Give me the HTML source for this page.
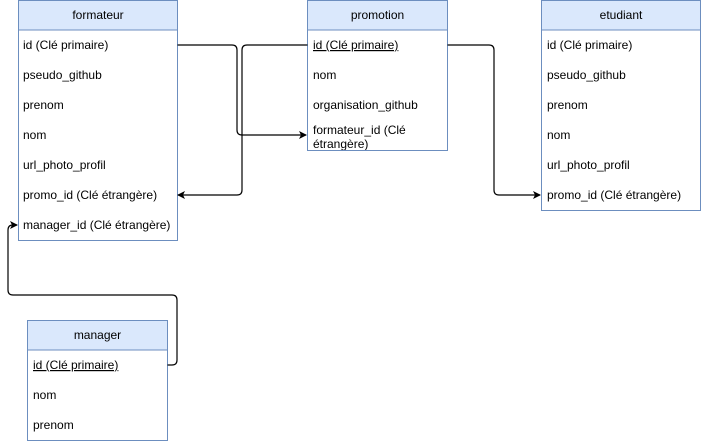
<!DOCTYPE html>
<html><head><meta charset="utf-8"><style>
html,body{margin:0;padding:0;background:#fff;width:702px;height:442px;overflow:hidden}
text{font-family:"Liberation Sans",Arial,sans-serif;font-size:12px;fill:#000}
</style></head><body>
<svg width="702" height="442" viewBox="0 0 702 442" xmlns="http://www.w3.org/2000/svg">
<defs>
<marker id="a" markerWidth="10" markerHeight="10" refX="7" refY="4" orient="auto" markerUnits="userSpaceOnUse">
<path d="M0,0 L8,4 L0,8 L2,4 Z" fill="#000"/></marker>
<clipPath id="cp"><rect x="307.5" y="30" width="140" height="120"/></clipPath>
</defs>
<!-- formateur -->
<rect x="18.5" y="0.5" width="159" height="240" fill="#fff" stroke="#6c8ebf"/>
<rect x="18.5" y="0.5" width="159" height="29.5" fill="#dae8fc" stroke="#6c8ebf"/>
<text x="98" y="19" text-anchor="middle">formateur</text>
<text x="23" y="49">id (Clé primaire)</text>
<text x="23" y="79">pseudo_github</text>
<text x="23" y="109">prenom</text>
<text x="23" y="139">nom</text>
<text x="23" y="169">url_photo_profil</text>
<text x="23" y="199">promo_id (Clé étrangère)</text>
<text x="23" y="229">manager_id (Clé étrangère)</text>
<!-- promotion -->
<rect x="307.5" y="0.5" width="140" height="150" fill="#fff" stroke="#6c8ebf"/>
<rect x="307.5" y="0.5" width="140" height="29.5" fill="#dae8fc" stroke="#6c8ebf"/>
<text x="377.5" y="19" text-anchor="middle">promotion</text>
<text x="313" y="49" text-decoration="underline">id (Clé primaire)</text>
<text x="313" y="79">nom</text>
<text x="313" y="109">organisation_github</text>
<g clip-path="url(#cp)">
<text x="313" y="134">formateur_id (Clé</text>
<text x="313" y="148">étrangère)</text>
</g>
<!-- etudiant -->
<rect x="541.5" y="0.5" width="159" height="210" fill="#fff" stroke="#6c8ebf"/>
<rect x="541.5" y="0.5" width="159" height="29.5" fill="#dae8fc" stroke="#6c8ebf"/>
<text x="621" y="19" text-anchor="middle">etudiant</text>
<text x="547" y="49">id (Clé primaire)</text>
<text x="547" y="79">pseudo_github</text>
<text x="547" y="109">prenom</text>
<text x="547" y="139">nom</text>
<text x="547" y="169">url_photo_profil</text>
<text x="547" y="199">promo_id (Clé étrangère)</text>
<!-- manager -->
<rect x="27.5" y="320.5" width="140" height="120" fill="#fff" stroke="#6c8ebf"/>
<rect x="27.5" y="320.5" width="140" height="29.5" fill="#dae8fc" stroke="#6c8ebf"/>
<text x="97.5" y="339" text-anchor="middle">manager</text>
<text x="33" y="369" text-decoration="underline">id (Clé primaire)</text>
<text x="33" y="399">nom</text>
<text x="33" y="429">prenom</text>
<!-- connectors -->
<g fill="none" stroke="#000" stroke-width="1.2">
<path d="M177.5,45 H232 Q237,45 237,50 V130 Q237,135 242,135 H306" marker-end="url(#a)"/>
<path d="M307.5,45 H247 Q242,45 242,50 V190 Q242,195 237,195 H178" marker-end="url(#a)"/>
<path d="M447.5,45 H489 Q494,45 494,50 V190 Q494,195 499,195 H540" marker-end="url(#a)"/>
<path d="M167.5,365 H172 Q177,365 177,360 V300 Q177,295 172,295 H13 Q8,295 8,290 V230 Q8,225 13,225 H17" marker-end="url(#a)"/>
</g>
</svg>
</body></html>
